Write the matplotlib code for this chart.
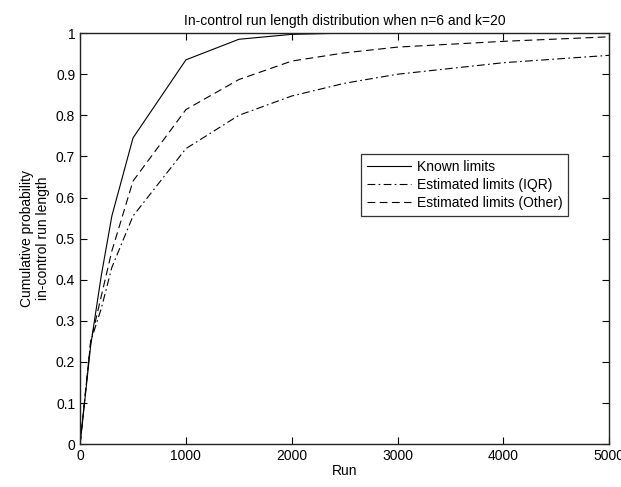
import matplotlib
matplotlib.use("Agg")

import matplotlib.pyplot as plt

plt.rcParams["font.family"] = ["Liberation Sans", "DejaVu Sans"]
plt.rcParams["font.size"] = 10

# run lengths and cumulative in-control probabilities
run = [0, 100, 200, 300, 500, 1000, 1500, 2000, 2500, 3000, 4000, 5000]
known = [0.0, 0.24, 0.41, 0.555, 0.745, 0.935, 0.985, 0.997, 1.0, 1.0, 1.0, 1.0]
est_iqr = [0.0, 0.25, 0.33, 0.43, 0.555, 0.719, 0.80, 0.847, 0.878, 0.900, 0.928, 0.946]
est_other = [0.0, 0.25, 0.36, 0.47, 0.64, 0.814, 0.887, 0.932, 0.952, 0.966, 0.980, 0.991]

fig = plt.figure(figsize=(6.21, 4.87), dpi=100)
ax = fig.add_axes([0.129, 0.088, 0.852, 0.844])

ax.plot(run, known, color="black", linewidth=0.8, linestyle="-", label="Known limits")
ax.plot(run, est_iqr, color="black", linewidth=0.8, linestyle=(0, (7, 3, 1.5, 3)),
        label="Estimated limits (IQR)")
ax.plot(run, est_other, color="black", linewidth=0.8, linestyle=(0, (7, 4)),
        label="Estimated limits (Other)")

ax.set_xlim(0, 5000)
ax.set_ylim(0, 1)
ax.set_xticks(range(0, 5001, 1000))
ax.set_yticks([i / 10 for i in range(11)])
ax.set_yticklabels(["0", "0.1", "0.2", "0.3", "0.4", "0.5", "0.6", "0.7", "0.8", "0.9", "1"])
ax.tick_params(direction="in", length=5, width=0.8, top=True, right=True, labelsize=10)
for s in ax.spines.values():
    s.set_linewidth(1.0)
    s.set_color("#222222")

ax.set_xlabel("Run", labelpad=1)
ax.set_ylabel("Cumulative probability\nin-control run length", labelpad=4)
ax.set_title("In-control run length distribution when n=6 and k=20", fontsize=10, pad=6)

leg = ax.legend(loc="upper left", bbox_to_anchor=(0.518, 0.722), fontsize=10,
                frameon=True, fancybox=False, handlelength=3.2, borderpad=0.4,
                labelspacing=0.3, handletextpad=0.4)
leg.get_frame().set_edgecolor("black")
leg.get_frame().set_linewidth(0.9)

fig.savefig("out.png", dpi=100)
